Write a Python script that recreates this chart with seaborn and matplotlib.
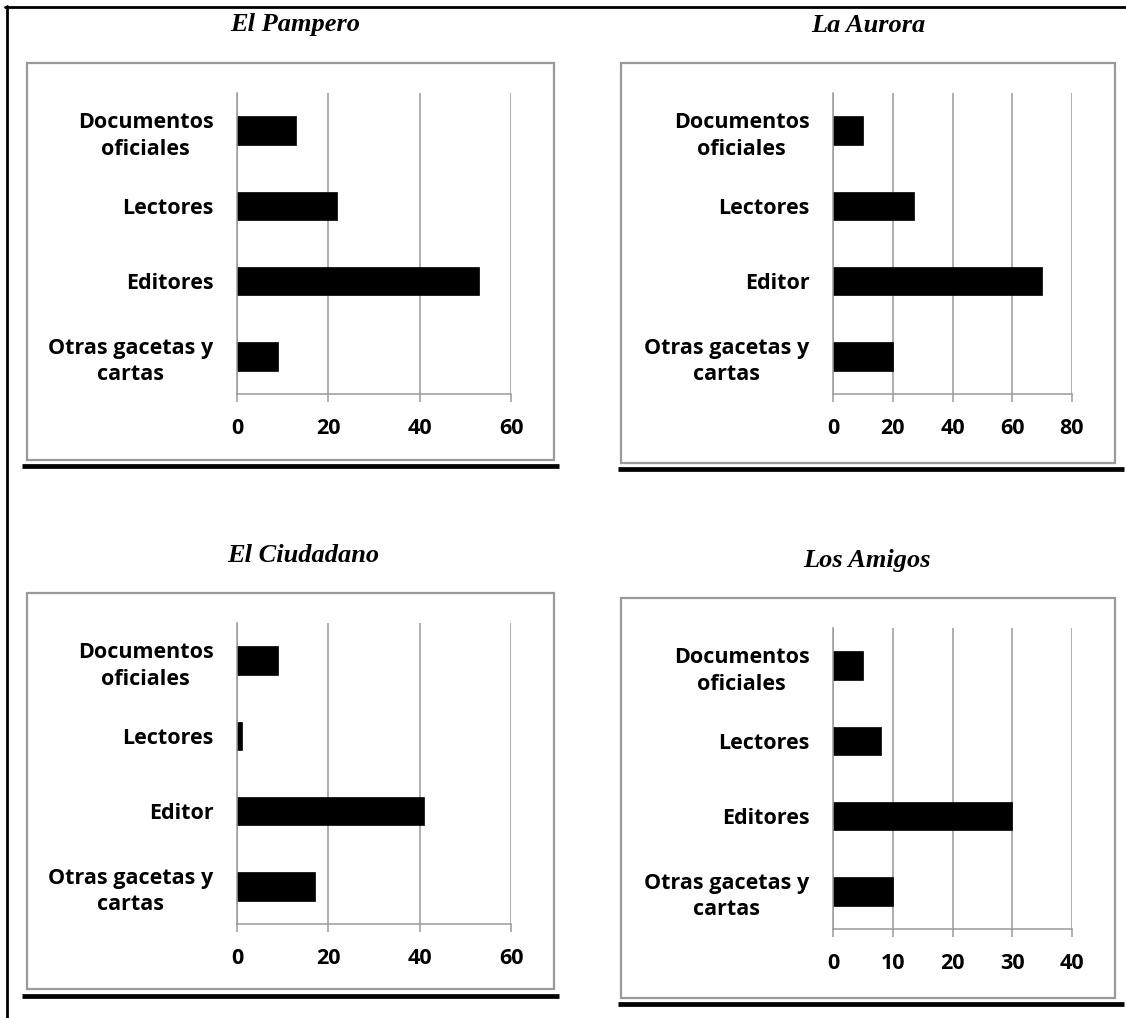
import numpy as np
import pandas as pd
import matplotlib
matplotlib.use("Agg")
import matplotlib.pyplot as plt
from matplotlib.patches import Rectangle
from matplotlib.lines import Line2D
import seaborn as sns

W, H = 1126, 1018

# Data
titles = ["El Pampero", "La Aurora", "El Ciudadano", "Los Amigos"]
cats_pampero = ["Documentos\noficiales", "Lectores", "Editores", "Otras gacetas y\ncartas"]
cats_aurora = ["Documentos\noficiales", "Lectores", "Editor", "Otras gacetas y\ncartas"]
cats_ciudadano = ["Documentos\noficiales", "Lectores", "Editor", "Otras gacetas y\ncartas"]
cats_amigos = ["Documentos\noficiales", "Lectores", "Editores", "Otras gacetas y\ncartas"]
vals_pampero = [13, 22, 53, 9]
vals_aurora = [10, 27, 70, 20]
vals_ciudadano = [9, 1, 41, 17]
vals_amigos = [5, 8, 30, 10]
ticks_pampero = [0, 20, 40, 60]
ticks_aurora = [0, 20, 40, 60, 80]
ticks_ciudadano = [0, 20, 40, 60]
ticks_amigos = [0, 10, 20, 30, 40]

sns.set_style("white")
plt.rcParams['font.family'] = ['Open Sans', 'DejaVu Sans']
plt.rcParams['font.weight'] = 'bold'
plt.rcParams['text.color'] = 'black'
plt.rcParams['xtick.labelcolor'] = 'black'
plt.rcParams['ytick.labelcolor'] = 'black'

GRAY = "#9a9a9a"

fig = plt.figure(figsize=(W / 100, H / 100), dpi=100)


def fx(x):
    return x / W


def fy(y):
    return 1 - y / H


def add_axes_px(x0, y0, x1, y1):
    return fig.add_axes([fx(x0), fy(y1), (x1 - x0) / W, (y1 - y0) / H])


# layout in pixels: box, axes, title position, thick underline
panels = [
    dict(title=titles[0], cats=cats_pampero, vals=vals_pampero, ticks=ticks_pampero,
         box=(27, 63, 554, 460), ax=(237, 93, 511, 394), tpos=(295, 25), line=(22, 559, 466)),
    dict(title=titles[1], cats=cats_aurora, vals=vals_aurora, ticks=ticks_aurora,
         box=(621, 63, 1115, 463), ax=(833, 93, 1072, 394), tpos=(868, 25), line=(618, 1124, 469)),
    dict(title=titles[2], cats=cats_ciudadano, vals=vals_ciudadano, ticks=ticks_ciudadano,
         box=(27, 593, 554, 989), ax=(237, 623, 511, 924), tpos=(303, 556), line=(22, 559, 996)),
    dict(title=titles[3], cats=cats_amigos, vals=vals_amigos, ticks=ticks_amigos,
         box=(621, 598, 1115, 998), ax=(833, 628, 1072, 929), tpos=(867, 560), line=(618, 1124, 1004)),
]

for p in panels:
    bx0, by0, bx1, by1 = p["box"]
    fig.patches.append(Rectangle((fx(bx0), fy(by1)), (bx1 - bx0) / W, (by1 - by0) / H,
                                 transform=fig.transFigure, fill=False,
                                 edgecolor=GRAY, linewidth=1.6, zorder=0))
    lx0, lx1, ly = p["line"]
    fig.lines.append(Line2D([fx(lx0), fx(lx1)], [fy(ly), fy(ly)], transform=fig.transFigure,
                            color="black", linewidth=3.4, solid_capstyle="butt"))
    fig.text(fx(p["tpos"][0]), fy(p["tpos"][1]), p["title"], ha="center", va="center",
             family="Liberation Serif", style="italic", weight="bold", fontsize=19,
             color="black")

    ax = add_axes_px(*p["ax"])
    df = pd.DataFrame({"cat": p["cats"], "val": p["vals"]})
    sns.barplot(data=df, x="val", y="cat", orient="h", color="black", width=0.38,
                edgecolor="black", linewidth=0.5, saturation=1, ax=ax)
    ax.set_xlim(p["ticks"][0], p["ticks"][-1])
    ax.set_xticks(p["ticks"])
    ax.set_xlabel("")
    ax.set_ylabel("")
    ax.xaxis.grid(True, color=GRAY, linewidth=1.1)
    ax.set_axisbelow(True)
    for s in ["top", "right"]:
        ax.spines[s].set_visible(False)
    for s in ["left", "bottom"]:
        ax.spines[s].set_color(GRAY)
        ax.spines[s].set_linewidth(1.1)
    ax.tick_params(axis="x", direction="out", length=6, width=1.1, color=GRAY, pad=11,
                   labelsize=15.5, labelcolor="black", bottom=True)
    ax.tick_params(axis="y", length=0, pad=17, labelsize=15.5, labelcolor="black")
    for lab in ax.get_yticklabels():
        lab.set_multialignment("center")
        lab.set_linespacing(1.35)

# outer frame lines (top and left)
fig.lines.append(Line2D([fx(5), fx(W)], [fy(7), fy(7)], transform=fig.transFigure,
                        color="black", linewidth=2))
fig.lines.append(Line2D([fx(7), fx(7)], [fy(6), fy(H)], transform=fig.transFigure,
                        color="black", linewidth=2))

fig.savefig("out.png", dpi=100)
